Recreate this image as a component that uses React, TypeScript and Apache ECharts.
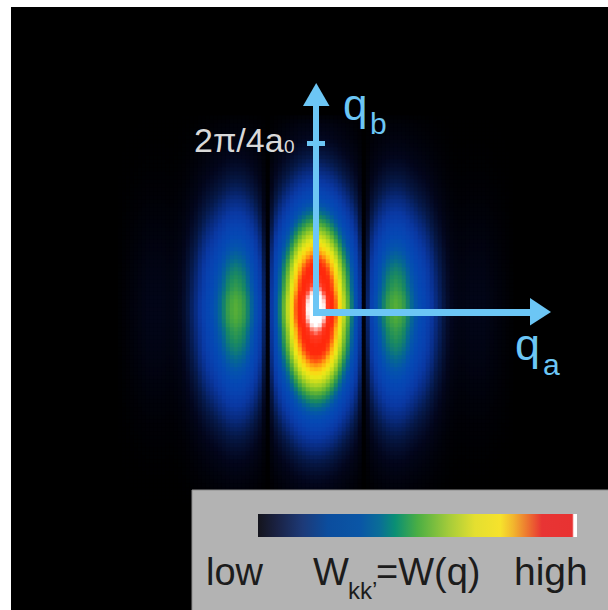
import React, { useEffect, useRef } from "react";
import * as echarts from "echarts";

// page offset of the black panel (chart div is placed there)
const OX = 11;
const OY = 7;

// W(q) along q_a through the centre, one value every 4 px from q_a = 0 outwards (0 .. 200 px)
const profileQa = [
  1.0, 0.99, 0.957, 0.906, 0.84, 0.76, 0.67, 0.58, 0.5, 0.41, 0.32, 0.2, 0.02,
  0.13, 0.24, 0.31, 0.37, 0.42, 0.46, 0.48, 0.49, 0.48, 0.46, 0.42, 0.38, 0.34,
  0.3, 0.27, 0.23, 0.19, 0.15, 0.12, 0.09, 0.065, 0.05, 0.04, 0.035, 0.035, 0.038,
  0.04, 0.04, 0.04, 0.04, 0.035, 0.03, 0.025, 0.02, 0.015, 0.01, 0.005, 0,
];

// W(q) along q_b through the centre, one value every 4 px from q_b = 0 outwards (0 .. 196 px)
const profileQb = [
  1.0, 0.998, 0.992, 0.98, 0.962, 0.94, 0.925, 0.91, 0.893, 0.872, 0.85,
  0.825, 0.796, 0.765, 0.733, 0.7, 0.666, 0.632, 0.598, 0.564, 0.53, 0.496,
  0.463, 0.432, 0.401, 0.371, 0.342, 0.315, 0.288, 0.263, 0.24, 0.218, 0.197,
  0.178, 0.16, 0.143, 0.128, 0.114, 0.101, 0.089, 0.079, 0.069, 0.06, 0.053,
  0.046, 0.04, 0.034, 0.025, 0.015, 0,
];

// heat colour scale, low -> high (evenly spaced)
const heatColors = [
  "#000000", "#03061c", "#061846", "#082a7c", "#0a38a2", "#0842b0", "#0549b4",
  "#0454ac", "#066a90", "#1a8a60", "#4aa83c", "#84c42a", "#bcd820", "#e8e818",
  "#fbd814", "#ffa812", "#ff5410", "#ff2a0c", "#ff280c", "#ff3a22", "#ffffff",
];

// colour bar in the legend box
const barStops: [number, string][] = [
  [0, "#14141c"], [0.06, "#1a2244"], [0.14, "#1d3a78"], [0.22, "#0b4d9e"],
  [0.32, "#0a56a6"], [0.38, "#0a6d98"], [0.43, "#0a8f74"], [0.5, "#4aae44"],
  [0.6, "#a6cc3a"], [0.68, "#e4df30"], [0.76, "#f6e22c"], [0.8, "#f2b62e"],
  [0.85, "#ec6e30"], [0.89, "#e83434"], [0.985, "#e83232"], [0.99, "#ffffff"],
  [1, "#ffffff"],
];

const NX = profileQa.length - 1; // 50
const NY = profileQb.length - 1; // 49

const ARROW = "#6cc6f5";
const FONT = '"Liberation Sans", Arial, Helvetica, sans-serif';

function txt(text: string, x: number, baseline: number, size: number, color: string) {
  return {
    type: "text",
    z: 100,
    x: x - OX,
    y: baseline - OY - 0.35 * size,
    style: {
      text,
      fill: color,
      fontSize: size,
      fontFamily: FONT,
      align: "left",
      verticalAlign: "middle",
    },
  };
}

export default function App() {
  const ref = useRef<HTMLDivElement>(null);

  useEffect(() => {
    if (!ref.current) return;
    const chart = echarts.init(ref.current, undefined, { renderer: "svg" });

    const xs: string[] = [];
    const ys: string[] = [];
    for (let i = -NX; i <= NX; i++) xs.push(String(i * 4));
    for (let j = -NY; j <= NY; j++) ys.push(String(j * 4));
    const data: number[][] = [];
    for (let i = 0; i < xs.length; i++) {
      for (let j = 0; j < ys.length; j++) {
        const v = profileQa[Math.abs(i - NX)] * profileQb[Math.abs(j - NY)];
        data.push([i, j, v]);
      }
    }

    const gridLeft = 316 - (2 * NX + 1) * 2;
    const gridTop = 309 - (2 * NY + 1) * 2;

    chart.setOption({
      animation: false,
      backgroundColor: "#000000",
      grid: {
        left: gridLeft - OX,
        top: gridTop - OY,
        width: (2 * NX + 1) * 4,
        height: (2 * NY + 1) * 4,
        containLabel: false,
      },
      xAxis: { type: "category", data: xs, show: false },
      yAxis: { type: "category", data: ys, show: false },
      visualMap: {
        type: "continuous",
        show: false,
        min: 0,
        max: 0.96,
        dimension: 2,
        seriesIndex: 0,
        inRange: { color: heatColors },
      },
      series: [
        {
          type: "heatmap",
          data,
          progressive: 0,
          silent: true,
          itemStyle: { borderWidth: 0 },
          emphasis: { disabled: true },
        },
      ],
      graphic: [
        // legend box
        {
          type: "rect",
          z: 100,
          shape: { x: 192 - OX, y: 490 - OY, width: 608 - 192 + 2, height: 610 - 490 + 2 },
          style: { fill: "#b3b3b3", stroke: "#8e8e8e", lineWidth: 1 },
        },
        {
          type: "rect",
          z: 101,
          shape: { x: 258 - OX, y: 514 - OY, width: 319, height: 23 },
          style: {
            fill: new echarts.graphic.LinearGradient(
              0, 0, 1, 0,
              barStops.map(([offset, color]) => ({ offset, color }))
            ),
          },
        },
        txt("low", 206, 585, 38, "#1c1c1c"),
        txt("W", 313, 585, 38, "#1c1c1c"),
        txt("kk\u2019", 348, 599, 24, "#1c1c1c"),
        txt("=W(q)", 376, 585, 38, "#1c1c1c"),
        txt("high", 514, 585, 39, "#1c1c1c"),
        // axes arrows
        {
          type: "rect",
          z: 100,
          shape: { x: 313 - OX, y: 104 - OY, width: 6, height: 212 },
          style: { fill: ARROW },
        },
        {
          type: "polygon",
          z: 100,
          shape: { points: [[303 - OX, 106 - OY], [329.5 - OX, 106 - OY], [316.2 - OX, 83 - OY]] },
          style: { fill: ARROW },
        },
        {
          type: "rect",
          z: 100,
          shape: { x: 313 - OX, y: 309 - OY, width: 219, height: 7 },
          style: { fill: ARROW },
        },
        {
          type: "polygon",
          z: 100,
          shape: { points: [[530 - OX, 298 - OY], [530 - OX, 325.5 - OY], [551 - OX, 312 - OY]] },
          style: { fill: ARROW },
        },
        {
          type: "rect",
          z: 100,
          shape: { x: 307 - OX, y: 141 - OY, width: 18, height: 5 },
          style: { fill: ARROW },
        },
        txt("q", 343, 120, 44, ARROW),
        txt("b", 370, 134, 30, ARROW),
        txt("q", 515, 360, 45, ARROW),
        txt("a", 543, 375, 30, ARROW),
        txt("2\u03c0/4a", 194, 152, 34, "#d9d9d9"),
        txt("0", 284, 153, 19, "#d9d9d9"),
      ],
    });

    return () => chart.dispose();
  }, []);

  return (
    <div
      ref={ref}
      style={{ position: "fixed", left: OX, top: OY, width: 608 - OX, height: 610 - OY }}
    />
  );
}
